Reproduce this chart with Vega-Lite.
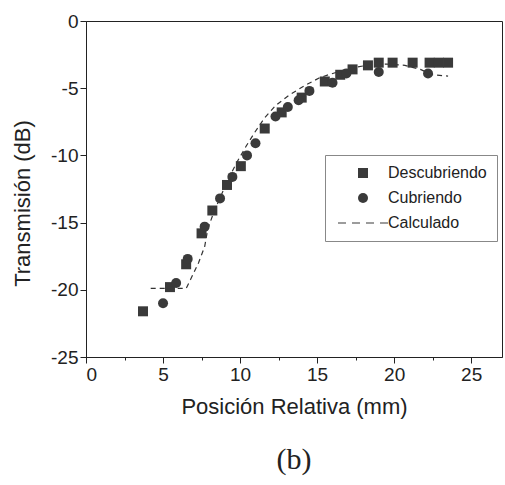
{
  "$schema": "https://vega.github.io/schema/vega-lite/v6.json",
  "autosize": "none",
  "width": 416,
  "height": 336,
  "padding": {"left": 86, "top": 21, "right": 3, "bottom": 128},
  "background": "white",
  "title": {"text": "(b)", "orient": "bottom", "font": "Liberation Serif", "fontSize": 30, "fontWeight": "normal", "color": "#222", "offset": 28},
  "config": {
    "view": {"stroke": "#222", "strokeWidth": 1},
    "axis": {"grid": false, "domainColor": "#222", "tickColor": "#222", "labelFont": "Liberation Sans", "labelFontSize": 19, "labelColor": "#222", "titleFont": "Liberation Sans", "titleFontSize": 22, "titleFontWeight": "normal", "titleColor": "#222"}
  },
  "datasets": {
    "pts": [
      {"serie": "Descubriendo", "x": 3.7, "y": -21.6},
      {"serie": "Descubriendo", "x": 5.45, "y": -19.8},
      {"serie": "Descubriendo", "x": 6.5, "y": -18.1},
      {"serie": "Descubriendo", "x": 7.5, "y": -15.8},
      {"serie": "Descubriendo", "x": 8.2, "y": -14.1},
      {"serie": "Descubriendo", "x": 9.15, "y": -12.2},
      {"serie": "Descubriendo", "x": 10.05, "y": -10.8},
      {"serie": "Descubriendo", "x": 11.6, "y": -8.0},
      {"serie": "Descubriendo", "x": 12.7, "y": -6.8},
      {"serie": "Descubriendo", "x": 14.0, "y": -5.7},
      {"serie": "Descubriendo", "x": 15.5, "y": -4.5},
      {"serie": "Descubriendo", "x": 16.5, "y": -4.0},
      {"serie": "Descubriendo", "x": 17.3, "y": -3.6},
      {"serie": "Descubriendo", "x": 18.3, "y": -3.3},
      {"serie": "Descubriendo", "x": 19.0, "y": -3.1},
      {"serie": "Descubriendo", "x": 19.9, "y": -3.1},
      {"serie": "Descubriendo", "x": 21.2, "y": -3.1},
      {"serie": "Descubriendo", "x": 22.3, "y": -3.1},
      {"serie": "Descubriendo", "x": 22.9, "y": -3.1},
      {"serie": "Descubriendo", "x": 23.5, "y": -3.1},
      {"serie": "Cubriendo", "x": 5.0, "y": -21.0},
      {"serie": "Cubriendo", "x": 5.85, "y": -19.5},
      {"serie": "Cubriendo", "x": 6.6, "y": -17.7},
      {"serie": "Cubriendo", "x": 7.7, "y": -15.3},
      {"serie": "Cubriendo", "x": 8.7, "y": -13.2},
      {"serie": "Cubriendo", "x": 9.5, "y": -11.6},
      {"serie": "Cubriendo", "x": 10.45, "y": -10.0},
      {"serie": "Cubriendo", "x": 11.0, "y": -9.1},
      {"serie": "Cubriendo", "x": 12.3, "y": -7.1},
      {"serie": "Cubriendo", "x": 13.1, "y": -6.4},
      {"serie": "Cubriendo", "x": 13.8, "y": -5.9},
      {"serie": "Cubriendo", "x": 14.5, "y": -5.2},
      {"serie": "Cubriendo", "x": 16.0, "y": -4.6},
      {"serie": "Cubriendo", "x": 16.9, "y": -3.9},
      {"serie": "Cubriendo", "x": 19.0, "y": -3.8},
      {"serie": "Cubriendo", "x": 22.2, "y": -3.9}
    ],
    "calc": [
      {"x": 4.2, "y": -19.9},
      {"x": 6.5, "y": -19.9},
      {"x": 6.8, "y": -19.2},
      {"x": 7.3, "y": -18.0},
      {"x": 7.7, "y": -16.8},
      {"x": 7.9, "y": -15.5},
      {"x": 8.3, "y": -14.2},
      {"x": 8.8, "y": -12.9},
      {"x": 9.3, "y": -11.6},
      {"x": 9.8, "y": -10.5},
      {"x": 10.4, "y": -9.3},
      {"x": 11.0, "y": -8.2},
      {"x": 11.6, "y": -7.2},
      {"x": 12.3, "y": -6.3},
      {"x": 13.2, "y": -5.5},
      {"x": 14.2, "y": -4.8},
      {"x": 15.2, "y": -4.2},
      {"x": 16.3, "y": -3.8},
      {"x": 17.2, "y": -3.5},
      {"x": 18.2, "y": -3.3},
      {"x": 19.5, "y": -3.2},
      {"x": 20.7, "y": -3.3},
      {"x": 21.7, "y": -3.6},
      {"x": 22.5, "y": -4.0},
      {"x": 23.5, "y": -4.1}
    ]
  },
  "layer": [
    {
      "data": {"name": "calc"},
      "mark": {"type": "line", "color": "#333", "strokeWidth": 1.2, "strokeDash": [5, 4]},
      "encoding": {
        "x": {"field": "x", "type": "quantitative"},
        "y": {"field": "y", "type": "quantitative"}
      }
    },
    {
      "data": {"name": "pts"},
      "mark": {"type": "point", "filled": true, "opacity": 1, "color": "#3a3a3a", "size": 100},
      "encoding": {
        "x": {"field": "x", "type": "quantitative", "scale": {"domain": [0, 27], "nice": false},
          "axis": {"title": "Posición Relativa (mm)", "values": [0, 2.5, 5, 7.5, 10, 12.5, 15, 17.5, 20, 22.5, 25],
            "labelExpr": "datum.value % 5 === 0 ? toString(datum.value) : ''",
            "tickSize": {"condition": {"test": "datum.value % 5 === 0", "value": 6}, "value": 3},
            "labelPadding": 2, "titlePadding": 12}},
        "y": {"field": "y", "type": "quantitative", "scale": {"domain": [-25, 0], "nice": false},
          "axis": {"title": "Transmisión (dB)", "values": [-25, -22.5, -20, -17.5, -15, -12.5, -10, -7.5, -5, -2.5, 0],
            "labelExpr": "datum.value % 5 === 0 ? toString(datum.value) : ''",
            "tickSize": {"condition": {"test": "datum.value % 5 === 0", "value": 6}, "value": 3},
            "labelPadding": 2, "titlePadding": 16, "titleY": 182}},
        "shape": {"field": "serie", "type": "nominal",
          "scale": {"domain": ["Descubriendo", "Cubriendo", "Calculado"], "range": ["square", "circle", "M-5,-0.12H-3.4V0.12H-5Z M-2.2,-0.12H-0.6V0.12H-2.2Z M0.6,-0.12H2.2V0.12H0.6Z M3.4,-0.12H5V0.12H3.4Z"]},
          "legend": {"title": null, "orient": "none", "legendX": 239, "legendY": 134,
            "padding": 10, "strokeColor": "#888", "fillColor": "white",
            "labelFont": "Liberation Sans", "labelFontSize": 16, "labelColor": "#222", "labelLimit": 200,
            "symbolSize": 100, "rowPadding": 9, "labelOffset": 17, "symbolOffset": 20,
            "symbolFillColor": "#3a3a3a", "symbolStrokeColor": "#3a3a3a", "symbolStrokeWidth": 0.5}}
      }
    }
  ]
}
